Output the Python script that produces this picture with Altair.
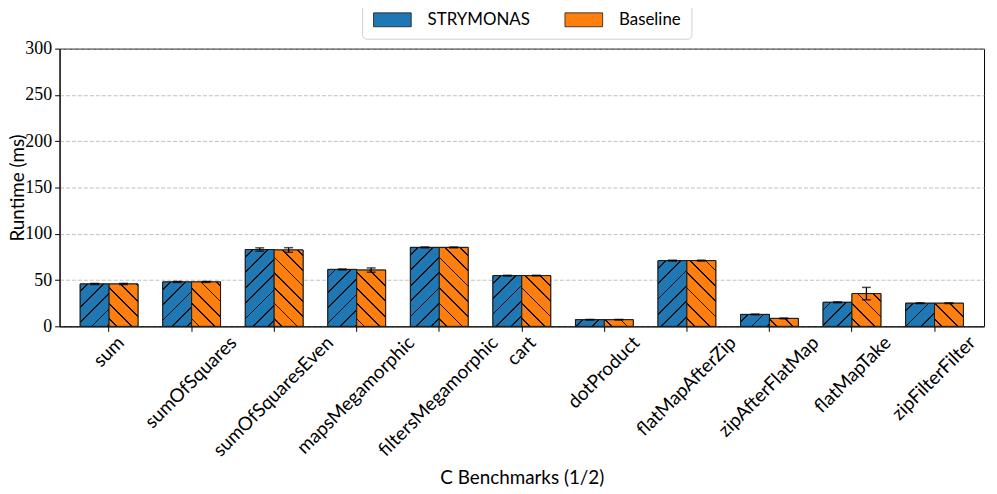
import math
import altair as alt
import pandas as pd

# ---------------- data ----------------
benchmarks = ["sum", "sumOfSquares", "sumOfSquaresEven", "mapsMegamorphic",
              "filtersMegamorphic", "cart", "dotProduct", "flatMapAfterZip",
              "zipAfterFlatMap", "flatMapTake", "zipFilterFilter"]
series_names = ["STRYMONAS", "Baseline"]
strymonas = [45.8, 48.0, 83.0, 61.5, 85.3, 54.8, 7.2, 71.0, 12.9, 26.0, 25.0]
baseline = [45.8, 48.0, 82.5, 60.8, 85.3, 54.8, 7.2, 71.0, 8.6, 35.4, 25.0]
strymonas_err = [0.6, 0.5, 1.8, 0.5, 0.5, 0.4, 0.3, 0.5, 0.4, 0.5, 0.4]
baseline_err = [0.6, 0.5, 2.5, 2.3, 0.5, 0.4, 0.3, 0.5, 0.4, 6.7, 0.4]
y_ticks = [0, 50, 100, 150, 200, 250, 300]

colors = ["#1f77b4", "#ff7f0e"]

rows = []
for i, b in enumerate(benchmarks):
    rows.append(dict(bench=b, series=series_names[0], value=strymonas[i], err=strymonas_err[i]))
    rows.append(dict(bench=b, series=series_names[1], value=baseline[i], err=baseline_err[i]))
df = pd.DataFrame(rows)
df["lo"] = df["value"] - df["err"]
df["hi"] = df["value"] + df["err"]

# ---------------- geometry / style helpers ----------------
W, H = 932, 280
Y_MAX = 300
P_IN, P_OUT = 0.3, 0.25
step = W / (len(benchmarks) - P_IN + 2 * P_OUT)
bar_w = step * (1 - P_IN) / 2
px_per = H / Y_MAX


def hatch_gradient(color, value, forward):
    w = bar_w
    h = max(value * px_per, 0.5)
    total = w + h
    k = total / (w * w + h * h)
    period = 15.5
    lw = 1.25 * math.sqrt(2)
    stops = [{"offset": 0, "color": color}]
    c = period * 0.5
    while c - lw / 2 < total:
        a = max(0.0, (c - lw / 2) / total)
        b = min(1.0, (c + lw / 2) / total)
        stops += [{"offset": a, "color": color}, {"offset": a, "color": "#111111"},
                  {"offset": b, "color": "#111111"}, {"offset": b, "color": color}]
        c += period
    stops.append({"offset": 1, "color": color})
    if forward:
        return {"gradient": "linear", "x1": 0, "y1": 0, "x2": k * w, "y2": k * h, "stops": stops}
    return {"gradient": "linear", "x1": 0, "y1": 1, "x2": k * w, "y2": 1 - k * h, "stops": stops}


# approximate Lato glyph widths (em) for placing rotated tick labels like matplotlib
cw = {c: 0.55 for c in "abcdefghijklmnopqrstuvwxyzABCDEFGHIJKLMNOPQRSTUVWXYZ"}
cw.update({"a": .49, "c": .46, "e": .51, "f": .32, "g": .50, "i": .24, "j": .24, "k": .50,
           "l": .24, "m": .83, "r": .37, "s": .41, "t": .34, "v": .50, "w": .76, "x": .49,
           "y": .50, "z": .45, "A": .67, "C": .64, "E": .55, "F": .53, "M": .87, "O": .77,
           "P": .58, "S": .51, "T": .57, "Z": .61})
LABEL_FS = 19
offs = {b: round(0.354 * sum(cw.get(ch, .55) for ch in b) * LABEL_FS, 1) for b in benchmarks}
offset_expr = "{" + ", ".join("'%s': %s" % (b, o) for b, o in offs.items()) + "}[datum.label]"

# ---------------- chart ----------------
x_enc = alt.X("bench:N", sort=benchmarks,
              scale=alt.Scale(paddingInner=P_IN, paddingOuter=P_OUT),
              axis=alt.Axis(title="C Benchmarks (1/2)", labelAngle=-45, labelAlign="right",
                            labelBaseline="middle", labelOffset={"expr": offset_expr},
                            labelPadding=8, labelFont="Lato", labelFontSize=LABEL_FS,
                            labelOverlap=False, labelBound=False, tickSize=5,
                            titleFont="Lato", titleFontSize=19, titleFontWeight="normal",
                            titleY=152, titleBaseline="middle", titleX=W / 2, grid=False))
xo_enc = alt.XOffset("series:N", sort=series_names,
                     scale=alt.Scale(paddingInner=0, paddingOuter=0))
y_scale = alt.Scale(domain=[0, Y_MAX], nice=False, zero=True)
y_axis = alt.Axis(title="Runtime (ms)", values=y_ticks, grid=True, gridDash=[4, 2],
                  gridColor="#b0b0b0", gridWidth=0.8, labelFont="Liberation Serif",
                  labelFontSize=18, labelPadding=3, tickSize=5, titleFont="Lato",
                  titleFontSize=19, titleFontWeight="normal", titleX=-42, titleY=H / 2,
                  titleBaseline="middle", titleAngle=-90)


def Y(field):
    return alt.Y(field, scale=y_scale, axis=y_axis)


base = alt.Chart(df).encode(x=x_enc, xOffset=xo_enc)

SYM = 14  # layout size of the legend symbol (px); drawn path extends to the right
legend_layer = base.mark_bar(stroke="#1a1a1a", strokeWidth=1).encode(
    y=Y("value:Q"),
    color=alt.Color("series:N", sort=series_names,
                    scale=alt.Scale(domain=series_names, range=colors),
                    legend=alt.Legend(title=None, orient="none", legendX=305, legendY=-48,
                                      direction="horizontal",
                                      symbolType="M-1,-1H4.43V1H-1Z", symbolSize=SYM * SYM,
                                      symbolStrokeColor="#1a1a1a", symbolStrokeWidth=0.8,
                                      symbolOpacity=1, labelFont="Lato", labelFontSize=17,
                                      labelOffset=39, columnPadding=32, padding=10,
                                      strokeColor="#d0d0d0", cornerRadius=4,
                                      fillColor="white")))

layers = [legend_layer]
for i, b in enumerate(benchmarks):
    for j, s in enumerate(series_names):
        v = (strymonas if j == 0 else baseline)[i]
        layers.append(
            base.transform_filter((alt.datum.bench == b) & (alt.datum.series == s))
            .mark_bar(fill=hatch_gradient(colors[j], v, j == 0), stroke="#1a1a1a", strokeWidth=1)
            .encode(y=Y("value:Q"))
        )

err_rule = base.mark_rule(color="black", strokeWidth=1.3).encode(y=Y("lo:Q"), y2="hi:Q")
cap_hi = base.mark_tick(color="black", thickness=1.5, size=9).encode(y=Y("hi:Q"))
cap_lo = base.mark_tick(color="black", thickness=1.5, size=9).encode(y=Y("lo:Q"))
layers += [err_rule, cap_hi, cap_lo]

chart = alt.layer(*layers).properties(
    width=W, height=H,
    autosize=alt.AutoSizeParams(type="none"),
    padding={"left": 52, "top": 39, "right": 5, "bottom": 160},
).configure_view(stroke="black", strokeWidth=1).configure_axis(
    domainColor="black", tickColor="black", labelColor="black", titleColor="black",
    domainWidth=1, tickWidth=1
)

chart.save("out.html", embed_options={"renderer": "svg", "actions": False})
